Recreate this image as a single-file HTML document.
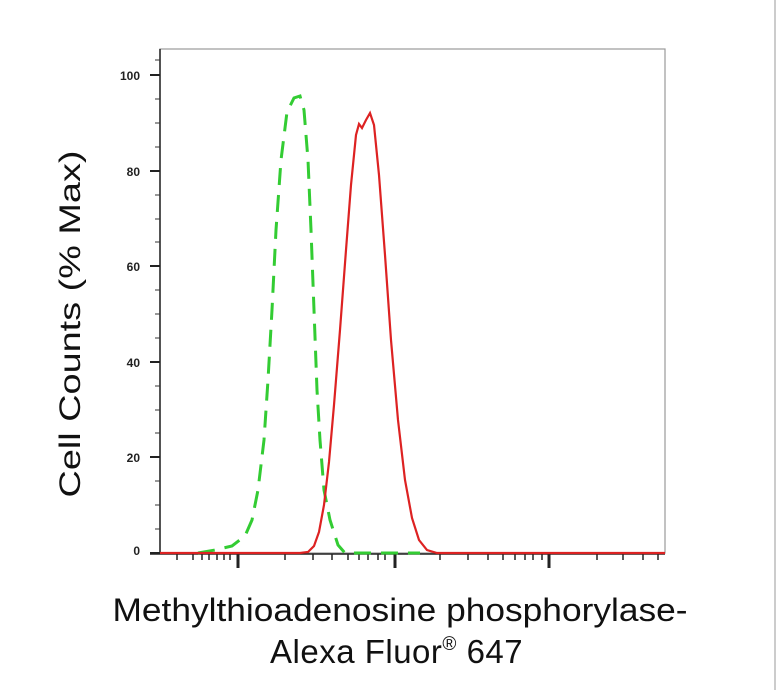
<!DOCTYPE html>
<html><head><style>body{margin:0;background:#fff}svg{display:block}</style></head><body>
<svg width="779" height="690" xmlns="http://www.w3.org/2000/svg" font-family="Liberation Sans, sans-serif">
<rect width="779" height="690" fill="#fff"/>
<line x1="775" y1="0" x2="775" y2="690" stroke="#ccc" stroke-width="2"/>
<rect x="160" y="49" width="505" height="504" fill="none" stroke="#999" stroke-width="1.2"/>
<line x1="160" y1="49" x2="160" y2="554" stroke="#222" stroke-width="1.5"/>
<line x1="150" y1="554" x2="665" y2="554" stroke="#222" stroke-width="1.5"/>
<g stroke="#222" stroke-width="2">
<line x1="150" y1="75" x2="160" y2="75"/><line x1="150" y1="171" x2="160" y2="171"/><line x1="150" y1="266" x2="160" y2="266"/><line x1="150" y1="362" x2="160" y2="362"/><line x1="150" y1="457" x2="160" y2="457"/><line x1="150" y1="553" x2="160" y2="553"/>
</g>
<g stroke="#333" stroke-width="1">
<line x1="155" y1="99" x2="160" y2="99"/><line x1="155" y1="123" x2="160" y2="123"/><line x1="155" y1="147" x2="160" y2="147"/>
<line x1="155" y1="195" x2="160" y2="195"/><line x1="155" y1="219" x2="160" y2="219"/><line x1="155" y1="242" x2="160" y2="242"/>
<line x1="155" y1="290" x2="160" y2="290"/><line x1="155" y1="314" x2="160" y2="314"/><line x1="155" y1="338" x2="160" y2="338"/>
<line x1="155" y1="386" x2="160" y2="386"/><line x1="155" y1="410" x2="160" y2="410"/><line x1="155" y1="433" x2="160" y2="433"/>
<line x1="155" y1="481" x2="160" y2="481"/><line x1="155" y1="505" x2="160" y2="505"/><line x1="155" y1="529" x2="160" y2="529"/>
<line x1="155" y1="60" x2="160" y2="60"/>
</g>
<g font-size="12" text-anchor="end" fill="#222" font-weight="bold">
<text x="140" y="80">100</text><text x="140" y="176">80</text><text x="140" y="271">60</text><text x="140" y="367">40</text><text x="140" y="462">20</text><text x="140" y="555">0</text>
</g>
<g stroke="#222" stroke-width="1.5">
<line x1="177" y1="554" x2="177" y2="560"/><line x1="193" y1="554" x2="193" y2="560"/><line x1="202" y1="554" x2="202" y2="560"/><line x1="209" y1="554" x2="209" y2="560"/><line x1="217" y1="554" x2="217" y2="560"/><line x1="224" y1="554" x2="224" y2="560"/><line x1="230" y1="554" x2="230" y2="560"/>
<line x1="285" y1="554" x2="285" y2="560"/><line x1="313" y1="554" x2="313" y2="560"/><line x1="332" y1="554" x2="332" y2="560"/><line x1="348" y1="554" x2="348" y2="560"/><line x1="359" y1="554" x2="359" y2="560"/><line x1="368" y1="554" x2="368" y2="560"/><line x1="378" y1="554" x2="378" y2="560"/><line x1="385" y1="554" x2="385" y2="560"/>
<line x1="440" y1="554" x2="440" y2="560"/><line x1="468" y1="554" x2="468" y2="560"/><line x1="488" y1="554" x2="488" y2="560"/><line x1="503" y1="554" x2="503" y2="560"/><line x1="515" y1="554" x2="515" y2="560"/><line x1="525" y1="554" x2="525" y2="560"/><line x1="533" y1="554" x2="533" y2="560"/><line x1="542" y1="554" x2="542" y2="560"/>
<line x1="597" y1="554" x2="597" y2="560"/><line x1="623" y1="554" x2="623" y2="560"/><line x1="643" y1="554" x2="643" y2="560"/><line x1="658" y1="554" x2="658" y2="560"/>
</g>
<g stroke="#222" stroke-width="3">
<line x1="238" y1="554" x2="238" y2="568"/><line x1="395" y1="554" x2="395" y2="568"/><line x1="549" y1="554" x2="549" y2="568"/>
</g>
<path d="M198 553 L215 550 L232 546 L245 536 L252 520 L258 490 L264 440 L268 380 L272 310 L276 230 L281 160 L287 112 L294 98 L300 96 L304 110 L308 160 L311 230 L314 310 L317 390 L320 440 L324 490 L330 520 L338 545 L345 553 L420 553" fill="none" stroke="#3c3" stroke-width="3" stroke-dasharray="17,10"/>
<path d="M160 553 L300 553 L308 552 L314 546 L319 532 L324 505 L329 462 L334 405 L340 330 L346 250 L351 185 L356 135 L359 124 L362 128 L366 120 L370 113 L374 125 L379 175 L385 255 L391 340 L398 420 L405 480 L412 518 L419 540 L427 550 L437 553 L665 553" fill="none" stroke="#d22" stroke-width="2.2"/>
<text transform="translate(80,324) rotate(-90)" font-size="30" text-anchor="middle" fill="#111" textLength="347" lengthAdjust="spacingAndGlyphs">Cell Counts (% Max)</text>
<text x="400" y="621" font-size="32" text-anchor="middle" fill="#111" textLength="575" lengthAdjust="spacingAndGlyphs">Methylthioadenosine phosphorylase-</text>
<text x="270" y="663" font-size="33" fill="#111" letter-spacing="0.5">Alexa Fluor<tspan font-size="19" dy="-13">®</tspan><tspan dy="13"> 647</tspan></text>
</svg>
</body></html>
